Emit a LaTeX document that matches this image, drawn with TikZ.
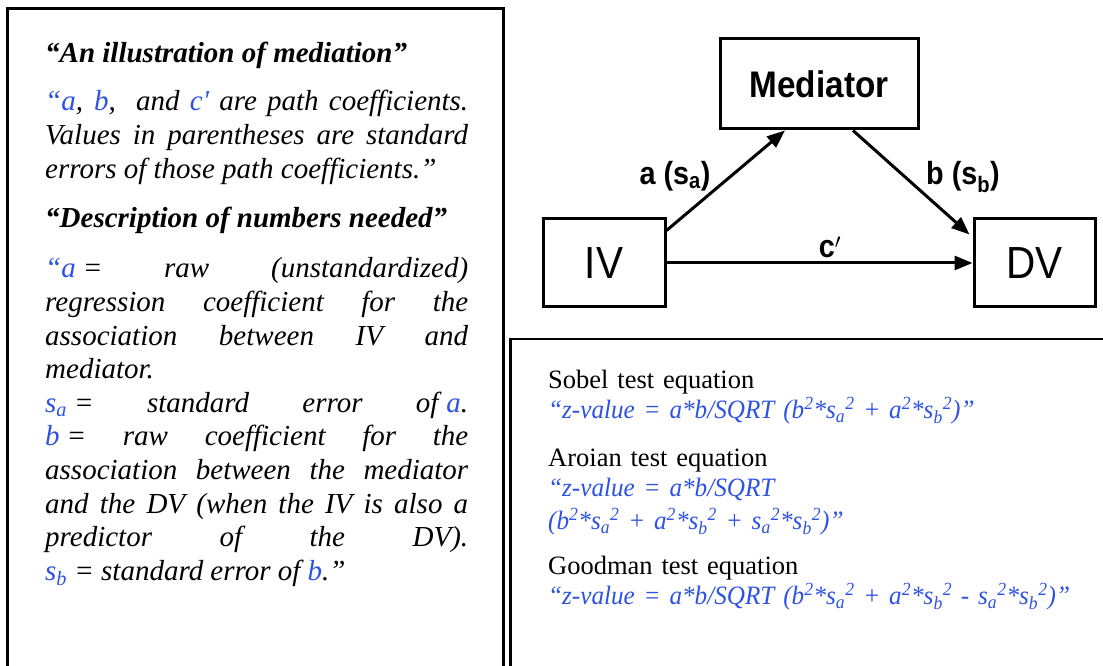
\documentclass[tikz,border=0pt]{standalone}
\usepackage{fontspec}
\setmainfont{Liberation Serif}
\newfontfamily\diagfont[FakeStretch=0.9]{Liberation Sans}
\newfontfamily\eqserif[FakeStretch=0.95]{Liberation Serif}
\usepackage{tikz}
\usetikzlibrary{arrows.meta, positioning}
\definecolor{medBlue}{RGB}{45,82,228}
\newcommand{\bl}[1]{\textcolor{medBlue}{#1}}
\newcommand{\fixsp}{\hspace{7pt}}
\newcommand{\eqfont}{\eqserif\fontsize{26.5}{30}\selectfont\itshape}
\hyphenpenalty=10000
\exhyphenpenalty=10000
\tolerance=10000

\begin{document}
\begin{tikzpicture}[x=1pt, y=1pt,
    panel/.style={draw=black, line width=3pt},
    varbox/.style={draw, line width=3pt, inner sep=0pt,
      font=\diagfont\fontsize{45}{54}\selectfont},
    pathlabel/.style={anchor=base, inner sep=0pt,
      font=\diagfont\bfseries\fontsize{32}{38}\selectfont},
    arr/.style={-{Triangle[length=18pt,width=14pt]}, line width=3pt},
    lefttext/.style={anchor=base west, inner sep=0pt, text width=423pt, align=justify,
      font=\fontsize{29}{33.6}\selectfont\itshape},
    righttext/.style={anchor=base west, inner sep=0pt, text width=620pt, align=left,
      font=\fontsize{26.5}{30}\selectfont}
  ]
  \useasboundingbox (0,0) rectangle (1103,666);
  \clip (0,0) rectangle (1103,666);

  % the two frames, both run off the page
  \draw[panel] (7,-20) rectangle (503.5,657.5);
  \draw[panel, line width=2.5pt] (510.5,327) rectangle (1130,-20);

  % left panel
  \node[lefttext, font=\fontsize{29}{33.6}\selectfont\bfseries\itshape] (headillus) at (45,603)
    {“An illustration of mediation”};
  \node[lefttext] (pathtext) at (45,555)
    {\bl{“a}, \bl{b},\ \ and \bl{c\textquotesingle} are\ path\ coefficients.\linebreak
     Values in parentheses are standard\linebreak
     errors of those path coefficients.”};
  \node[lefttext, font=\fontsize{29}{33.6}\selectfont\bfseries\itshape] (headnums) at (45,438)
    {“Description of numbers needed”};
  \node[lefttext] (numtext) at (45,388)
    {\bl{“a}\fixsp= raw (unstandardized)\linebreak
     regression coefficient for the\linebreak
     association between IV and\linebreak
     mediator.\newline
     \bl{s\textsubscript{a}}\fixsp= standard error of\hspace{8pt}\bl{a}.\linebreak
     \bl{b}\fixsp= raw coefficient for the\linebreak
     association between the mediator\linebreak
     and the DV (when the IV is also a\linebreak
     predictor of the DV).\linebreak
     \bl{s\textsubscript{b}} = standard error of \bl{b}.”};

  % mediation diagram
  \node[varbox, minimum width=122pt, minimum height=88pt] (iv) at (604,403) {IV};
  \node[varbox, minimum width=121pt, minimum height=88pt, right=306pt of iv] (dv) {DV};
  \node[varbox, minimum width=198pt, minimum height=90pt,
    font=\diagfont\bfseries\fontsize{37}{44}\selectfont,
    above right=87pt and 52pt of iv] (med) {Mediator};

  \draw[arr] ([yshift=-13pt]iv.north east) -- ([xshift=-34pt]med.south);
  \draw[arr] ([xshift=34pt]med.south) -- ([xshift=-3pt,yshift=-17pt]dv.north west);
  \draw[arr] (iv) -- (dv);

  \node[pathlabel] (alab) at (675,481) {a (s\textsubscript{a})};
  \node[pathlabel] (blab) at (963,481) {b (s\textsubscript{b})};
  \node[pathlabel] (clab) at (830,408) {c$'$};

  % test equations
  \node[righttext] (sobel) at (548,277)
    {Sobel test equation\\
     \bl{\eqfont “z-value = a*b/SQRT (b\textsuperscript{2}*s\textsubscript{a}\textsuperscript{2} + a\textsuperscript{2}*s\textsubscript{b}\textsuperscript{2})”}};
  \node[righttext] (aroian) at (548,199)
    {Aroian test equation\\
     \bl{\eqfont “z-value = a*b/SQRT}\\[3pt]
     \bl{\eqfont (b\textsuperscript{2}*s\textsubscript{a}\textsuperscript{2} + a\textsuperscript{2}*s\textsubscript{b}\textsuperscript{2} + s\textsubscript{a}\textsuperscript{2}*s\textsubscript{b}\textsuperscript{2})”}};
  \node[righttext] (goodman) at (548,91)
    {Goodman test equation\\
     \bl{\eqfont “z-value = a*b/SQRT (b\textsuperscript{2}*s\textsubscript{a}\textsuperscript{2} + a\textsuperscript{2}*s\textsubscript{b}\textsuperscript{2} - s\textsubscript{a}\textsuperscript{2}*s\textsubscript{b}\textsuperscript{2})”}};
\end{tikzpicture}
\end{document}
